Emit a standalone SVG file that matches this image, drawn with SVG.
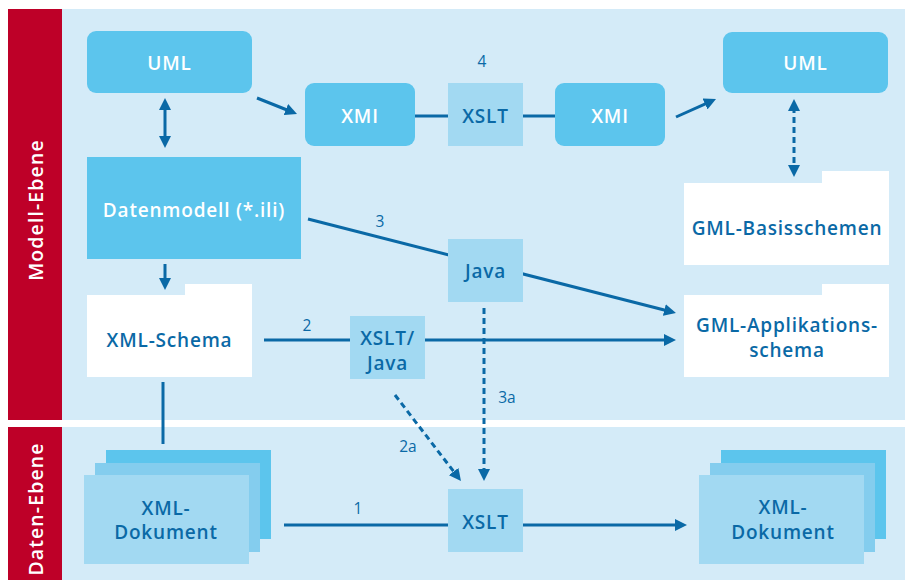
<svg xmlns="http://www.w3.org/2000/svg" width="905" height="580" viewBox="0 0 905 580">
  <style>
    .panel { fill: #d4ebf8; }
    .band { fill: #be0028; }
    .mid { fill: #5cc5ed; }
    .light { fill: #a2d9f2; }
    .layer2 { fill: #84cdee; }
    .white { fill: #ffffff; }
    .t { font-family: "Open Sans", "Liberation Sans", sans-serif; font-weight: 600; font-size: 19px; letter-spacing: 0.8px; text-anchor: middle; dominant-baseline: central; }
    .tw { fill: #ffffff; }
    .td { fill: #0a69a6; }
    .band-t { font-family: "Open Sans", "Liberation Sans", sans-serif; font-weight: 600; font-size: 19.5px; letter-spacing: 1.1px; fill: #ffffff; text-anchor: middle; dominant-baseline: central; }
    .num { font-family: "Open Sans", "Liberation Sans", sans-serif; font-weight: 400; font-size: 15.5px; fill: #0a69a6; text-anchor: middle; dominant-baseline: central; }
    .ln { stroke: #0a69a6; stroke-width: 3; fill: none; }
    .dash { stroke-dasharray: 6 4; }
  </style>
  <defs>
    <marker id="arrow" viewBox="0 0 12 12" refX="4" refY="6" markerWidth="12" markerHeight="12" markerUnits="userSpaceOnUse" orient="auto-start-reverse">
      <path d="M0,0 L12,6 L0,12 z" fill="#0a69a6"/>
    </marker>
  </defs>

  <!-- layer backgrounds -->
  <rect class="panel" x="8" y="9" width="897" height="411"/>
  <rect class="panel" x="8" y="427" width="897" height="153"/>
  <rect class="band" x="8" y="9" width="54" height="411"/>
  <rect class="band" x="8" y="427" width="54" height="153"/>
  <text class="band-t" transform="translate(35,210) rotate(-90)">Modell-Ebene</text>
  <text class="band-t" transform="translate(35,509) rotate(-90)">Daten-Ebene</text>

  <!-- connectors -->
  <g id="connectors">
    <line class="ln" x1="165" y1="106" x2="165" y2="140" marker-start="url(#arrow)" marker-end="url(#arrow)"/>
    <line class="ln" x1="165" y1="264" x2="165" y2="282" marker-end="url(#arrow)"/>
    <line class="ln" x1="257" y1="98" x2="289.6" y2="111" marker-end="url(#arrow)"/>
    <line class="ln" x1="415" y1="116" x2="448" y2="116"/>
    <line class="ln" x1="523" y1="116" x2="555" y2="116"/>
    <line class="ln" x1="676" y1="117" x2="708.7" y2="102.3" marker-end="url(#arrow)"/>
    <line class="ln dash" x1="794" y1="107" x2="794" y2="169" marker-start="url(#arrow)" marker-end="url(#arrow)"/>
    <line class="ln" x1="308" y1="219" x2="668.2" y2="311" marker-end="url(#arrow)"/>
    <line class="ln" x1="264" y1="340" x2="668" y2="340" marker-end="url(#arrow)"/>
    <line class="ln" x1="163" y1="382" x2="163" y2="444"/>
    <line class="ln dash" x1="484" y1="308" x2="484" y2="473" marker-end="url(#arrow)"/>
    <line class="ln dash" x1="395" y1="395" x2="456.1" y2="474.7" marker-end="url(#arrow)"/>
    <line class="ln" x1="284" y1="525" x2="448" y2="525"/>
    <line class="ln" x1="523" y1="525" x2="679" y2="525" marker-end="url(#arrow)"/>
    <text class="num" x="482" y="61">4</text>
    <text class="num" x="380" y="221">3</text>
    <text class="num" x="307" y="325">2</text>
    <text class="num" x="507" y="397">3a</text>
    <text class="num" x="408" y="446">2a</text>
    <text class="num" x="358" y="508">1</text>
  </g>

  <!-- model layer nodes -->
  <g id="uml-left">
    <rect class="mid" x="87" y="31" width="165" height="62" rx="9"/>
    <text class="t tw" x="169.5" y="63">UML</text>
  </g>
  <g id="xmi-left">
    <rect class="mid" x="305" y="83" width="110" height="63" rx="9"/>
    <text class="t tw" x="360" y="116">XMI</text>
  </g>
  <g id="xslt-top">
    <rect class="light" x="448" y="83" width="75" height="63"/>
    <text class="t td" x="485.5" y="116">XSLT</text>
  </g>
  <g id="xmi-right">
    <rect class="mid" x="555" y="83" width="110" height="63" rx="9"/>
    <text class="t tw" x="610" y="116">XMI</text>
  </g>
  <g id="uml-right">
    <rect class="mid" x="723" y="32" width="165" height="61" rx="9"/>
    <text class="t tw" x="805.5" y="63">UML</text>
  </g>
  <g id="datenmodell">
    <rect class="mid" x="87" y="157" width="214" height="102"/>
    <text class="t tw" x="194" y="210">Datenmodell (*.ili)</text>
  </g>
  <g id="java">
    <rect class="light" x="448" y="239" width="75" height="63"/>
    <text class="t td" x="485.5" y="271">Java</text>
  </g>
  <g id="gml-basis">
    <path class="white" d="M684,183 H822 V171 H889 V265 H684 Z"/>
    <text class="t td" x="787" y="228">GML-Basisschemen</text>
  </g>
  <g id="xml-schema">
    <path class="white" d="M87,295 H185 V284 H252 V377 H87 Z"/>
    <text class="t td" x="169.5" y="340">XML-Schema</text>
  </g>
  <g id="xslt-java">
    <rect class="light" x="350" y="316" width="75" height="63"/>
    <text class="t td" x="387.5" y="338">XSLT/</text>
    <text class="t td" x="387.5" y="363">Java</text>
  </g>
  <g id="gml-applikation">
    <path class="white" d="M684,295 H822 V284 H889 V377 H684 Z"/>
    <text class="t td" x="787" y="325">GML-Applikations-</text>
    <text class="t td" x="787" y="350">schema</text>
  </g>

  <!-- data layer nodes -->
  <g id="xml-dokument-left">
    <rect class="mid" x="106" y="450" width="165" height="89"/>
    <rect class="layer2" x="95" y="463" width="165" height="89"/>
    <rect class="light" x="84" y="475" width="165" height="89"/>
    <text class="t td" x="166" y="508">XML-</text>
    <text class="t td" x="166" y="532">Dokument</text>
  </g>
  <g id="xslt-bottom">
    <rect class="light" x="448" y="489" width="75" height="63"/>
    <text class="t td" x="485.5" y="522">XSLT</text>
  </g>
  <g id="xml-dokument-right">
    <rect class="mid" x="721" y="450" width="165" height="89"/>
    <rect class="layer2" x="710" y="463" width="165" height="89"/>
    <rect class="light" x="699" y="475" width="165" height="89"/>
    <text class="t td" x="783" y="507">XML-</text>
    <text class="t td" x="783" y="532">Dokument</text>
  </g>
</svg>
